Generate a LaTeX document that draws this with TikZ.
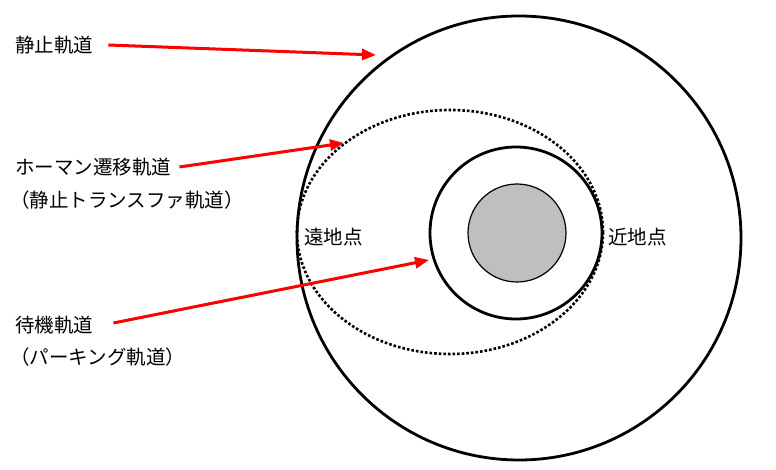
\documentclass[tikz,border=0pt]{standalone}
\usepackage{fontspec}
\setmainfont{Noto Sans CJK JP}
\usetikzlibrary{arrows.meta, positioning}

\begin{document}
\begin{tikzpicture}[x=1pt, y=-1pt,
    lbl/.style={anchor=west, inner sep=0pt, font=\fontsize{19.5}{22}\selectfont},
    orbit/.style={draw, line width=2.8pt},
    arrow/.style={-{Triangle[length=14pt, width=11pt]}, red, line width=3pt}
]
    \useasboundingbox (0,0) rectangle (776,470);

    % Orbits
    \draw[orbit] (519,238) circle (222);
    \draw[draw, line width=2.6pt, dotted] (450,232) ellipse (153 and 122);
    \draw[orbit] (516,233) circle (86);
    \draw[line width=1.2pt, fill=black!25] (517,233) circle (49);

    % Labels
    \node[lbl] (geo) at (15,45) {静止軌道};
    \node[lbl] (hohmann) at (15,167) {ホーマン遷移軌道};
    \node[lbl] (gto) at (10,200) {（静止トランスファ軌道）};
    \node[lbl] (park) at (15,325) {待機軌道};
    \node[lbl] (parkb) at (10,357) {（パーキング軌道）};
    \node[lbl] (apogee) at (304,237) {遠地点};
    \node[lbl] (perigee) at (608,237) {近地点};

    % Arrow targets
    \coordinate (geoend) at (376,55);
    \coordinate (hohend) at (344,143);
    \coordinate (parkend) at (429,260);

    % Arrows
    \draw[arrow] (geo.east) ++(15,0) -- (geoend);
    \draw[arrow] (hohmann.east) ++(8,0) -- (hohend);
    \draw[arrow] (park.east) ++(20,-2) -- (parkend);
\end{tikzpicture}
\end{document}
